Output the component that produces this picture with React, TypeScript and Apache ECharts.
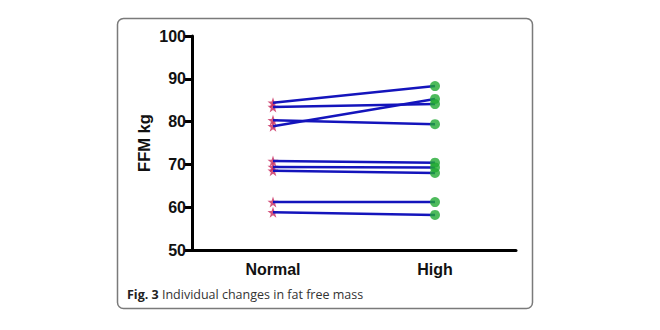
import React, { useEffect, useRef } from "react";
import * as echarts from "echarts";

// Fat free mass (kg) per subject under the two conditions
const categories = ["Normal", "High"];
const normalValues = [84.4, 83.4, 80.3, 78.9, 70.8, 69.4, 68.5, 61.2, 58.8];
const highValues = [88.3, 84.1, 79.4, 85.3, 70.4, 69.3, 68.0, 61.2, 58.2];
const yTicks = { min: 50, max: 100, interval: 10 };
const axisTitle = "FFM kg";
const captionBold = "Fig. 3";
const captionText = "Individual changes in fat free mass";

const STAR =
  "path://M50,0 L61.8,35.1 L98.1,35.1 L68.8,56.8 L79.4,90.5 L50,69.8 L20.6,90.5 L31.2,56.8 L1.9,35.1 L38.2,35.1 Z";

export default function App() {
  const ref = useRef<HTMLDivElement>(null);

  useEffect(() => {
    if (!ref.current) return;
    const chart = echarts.init(ref.current, null, { renderer: "svg" });

    const lineSeries = normalValues.map((n, i) => ({
      type: "line" as const,
      name: "subject" + (i + 1),
      data: [n, highValues[i]],
      symbol: "none",
      lineStyle: { color: "#1414bc", width: 2.5 },
      z: 2,
      silent: true,
    }));

    const boldLabel = {
      color: "#111",
      fontFamily: "Liberation Sans, Arial, sans-serif",
      fontWeight: "bold" as const,
      fontSize: 16,
    };

    chart.setOption({
      animation: false,
      backgroundColor: "#ffffff",
      grid: { left: 192, right: 144, top: 36, bottom: 80 },
      xAxis: {
        type: "category",
        data: categories,
        boundaryGap: true,
        axisLine: { lineStyle: { color: "#000", width: 3 } },
        axisTick: { alignWithLabel: true, length: 7, lineStyle: { color: "#000", width: 3 } },
        axisLabel: { margin: 11, ...boldLabel },
      },
      yAxis: {
        type: "value",
        min: yTicks.min,
        max: yTicks.max,
        interval: yTicks.interval,
        name: axisTitle,
        nameLocation: "middle",
        nameGap: 40,
        nameTextStyle: { ...boldLabel, fontSize: 16.5 },
        splitLine: { show: false },
        axisLine: { show: true, lineStyle: { color: "#000", width: 3 } },
        axisTick: { show: true, length: 7, lineStyle: { color: "#000", width: 3 } },
        axisLabel: { margin: 6, ...boldLabel },
      },
      series: [
        {
          type: "scatter",
          name: "Normal",
          data: normalValues.map((v) => [categories[0], v]),
          symbol: STAR,
          symbolSize: 11,
          itemStyle: { color: "#c82a5e" },
          z: 1,
          silent: true,
        },
        ...lineSeries,
        {
          type: "scatter",
          name: "High",
          data: highValues.map((v) => [categories[1], v]),
          symbol: "circle",
          symbolSize: 10,
          itemStyle: { color: "#22aa33" },
          z: 3,
          silent: true,
        },
      ],
      graphic: [
        {
          type: "rect",
          shape: { x: 117.5, y: 18.5, width: 415, height: 290, r: 6 },
          style: { fill: "none", stroke: "#7a7a7a", lineWidth: 1.5 },
          silent: true,
        },
        {
          type: "text",
          left: 127,
          top: 288,
          style: {
            text: "{b|" + captionBold + "} " + captionText,
            fontFamily: "Open Sans, Noto Sans, sans-serif",
            fontSize: 12.5,
            fill: "#333",
            rich: {
              b: {
                fontFamily: "Open Sans, Noto Sans, sans-serif",
                fontWeight: "bold",
                fontSize: 12.5,
                fill: "#222",
              },
            },
          },
        },
      ],
    });

    return () => chart.dispose();
  }, []);

  return (
    <div
      ref={ref}
      style={{ position: "fixed", left: 0, top: 0, width: 660, height: 330, background: "#fff" }}
    />
  );
}
